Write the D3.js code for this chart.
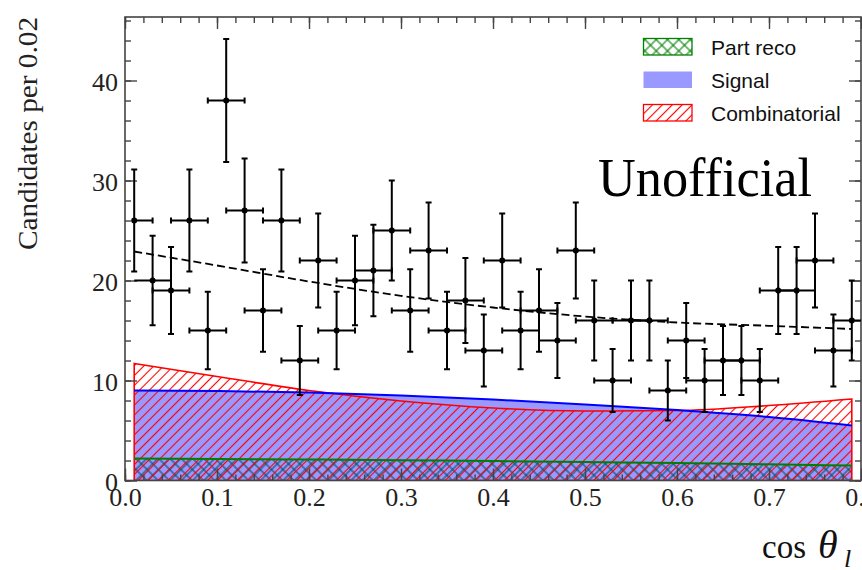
<!DOCTYPE html>
<html>
<head>
<meta charset="utf-8">
<script src="https://cdn.jsdelivr.net/npm/d3@7"></script>
<style>
  html, body { margin: 0; padding: 0; background: #fff; }
  svg { display: block; }
</style>
</head>
<body>
<svg id="chart" width="862" height="570"></svg>
<script>
// ---------------- data ----------------
const binCenters = [0.01, 0.03, 0.05, 0.07, 0.09, 0.11, 0.13, 0.15, 0.17, 0.19,
                    0.21, 0.23, 0.25, 0.27, 0.29, 0.31, 0.33, 0.35, 0.37, 0.39,
                    0.41, 0.43, 0.45, 0.47, 0.49, 0.51, 0.53, 0.55, 0.57, 0.59,
                    0.61, 0.63, 0.65, 0.67, 0.69, 0.71, 0.73, 0.75, 0.77, 0.79];
const counts = [26, 20, 19, 26, 15, 38, 27, 17, 26, 12,
                22, 15, 20, 21, 25, 17, 23, 15, 18, 13,
                22, 15, 17, 14, 23, 16, 10, 16, 16, 9,
                14, 10, 12, 12, 10, 19, 19, 22, 13, 16];
const countErrors = [5.10, 4.47, 4.36, 5.10, 3.87, 6.16, 5.20, 4.12, 5.10, 3.46,
                     4.69, 3.87, 4.47, 4.58, 5.00, 4.12, 4.80, 3.87, 4.24, 3.61,
                     4.69, 3.87, 4.12, 3.74, 4.80, 4.00, 3.16, 4.00, 4.00, 3.00,
                     3.74, 3.16, 3.46, 3.46, 3.16, 4.36, 4.36, 4.69, 3.61, 4.00];
const xErrorHalfWidth = 0.02;

const curveX        = [0.01, 0.10, 0.20, 0.30, 0.40, 0.50, 0.60, 0.70, 0.79];
const partReco      = [2.20, 2.15, 2.10, 2.02, 1.95, 1.85, 1.75, 1.62, 1.50];
const signal        = [9.00, 8.95, 8.80, 8.50, 8.10, 7.60, 7.05, 6.35, 5.50];
const combinatorial = [11.70, 10.40, 9.00, 7.95, 7.25, 6.95, 7.00, 7.50, 8.15];

const xTickValues = [0.0, 0.1, 0.2, 0.3, 0.4, 0.5, 0.6, 0.7, 0.8];
const xTickLabels = ["0.0", "0.1", "0.2", "0.3", "0.4", "0.5", "0.6", "0.7", "0.8"];
const yTickValues = [0, 10, 20, 30, 40];
const yTickLabels = ["0", "10", "20", "30", "40"];
const legendLabels = ["Part reco", "Signal", "Combinatorial"];

// ---------------- layout ----------------
const svg = d3.select("#chart");
const X0 = 125, X1 = 861, Y0 = 480.5, Y1 = 17;
const x = d3.scaleLinear().domain([0, 0.8]).range([X0, X1]);
const y = d3.scaleLinear().domain([0, 46.35]).range([Y0, Y1]);

const defs = svg.append("defs");
defs.append("clipPath").attr("id", "plotClip")
  .append("rect").attr("x", X0).attr("y", Y1).attr("width", X1 - X0).attr("height", Y0 - Y1);

// red single hatch "///"
const pr = defs.append("pattern").attr("id", "hatchRed")
  .attr("patternUnits", "userSpaceOnUse").attr("width", 7).attr("height", 7)
  .attr("patternTransform", "rotate(45)");
pr.append("line").attr("x1", 3.5).attr("y1", -1).attr("x2", 3.5).attr("y2", 8)
  .attr("stroke", "#ff0000").attr("stroke-width", 1.1);

// green cross hatch "xxx"
function crossPattern(id, color) {
  const p = defs.append("pattern").attr("id", id)
    .attr("patternUnits", "userSpaceOnUse").attr("width", 8).attr("height", 8)
    .attr("patternTransform", "rotate(45)");
  p.append("line").attr("x1", 4).attr("y1", -1).attr("x2", 4).attr("y2", 9)
    .attr("stroke", color).attr("stroke-width", 1.1);
  p.append("line").attr("x1", -1).attr("y1", 4).attr("x2", 9).attr("y2", 4)
    .attr("stroke", color).attr("stroke-width", 1.1);
}
crossPattern("crossGreen", "#008000");

// ---------------- components ----------------
const mk = arr => curveX.map((cx, i) => ({ x: cx, v: arr[i] }));
const prData = mk(partReco), sigData = mk(signal), combData = mk(combinatorial);
const totalData = curveX.map((cx, i) => ({ x: cx, v: partReco[i] + signal[i] + combinatorial[i] }));

const area = d3.area().x(d => x(d.x)).y0(y(0)).y1(d => y(d.v)).curve(d3.curveMonotoneX);
const line = d3.line().x(d => x(d.x)).y(d => y(d.v)).curve(d3.curveMonotoneX);

const plot = svg.append("g").attr("clip-path", "url(#plotClip)");

plot.append("path").attr("d", area(prData)).attr("fill", "url(#crossGreen)");
plot.append("path").attr("d", area(sigData)).attr("fill", "rgba(0,0,255,0.4)");
plot.append("path").attr("d", area(combData)).attr("fill", "url(#hatchRed)")
  .attr("stroke", "#ff0000").attr("stroke-width", 1.6);
plot.append("path").attr("d", line(sigData)).attr("fill", "none")
  .attr("stroke", "#0000ff").attr("stroke-width", 2);
plot.append("path").attr("d", line(prData)).attr("fill", "none")
  .attr("stroke", "#008000").attr("stroke-width", 2);
plot.append("path").attr("d", line(totalData)).attr("fill", "none")
  .attr("stroke", "#000").attr("stroke-width", 1.8).attr("stroke-dasharray", "8,4");

// ---------------- axes ----------------
const axisColor = "#444";
function styleAxis(g) {
  g.select(".domain").remove();
  g.selectAll(".tick line").attr("stroke", axisColor).attr("stroke-width", 1.4);
  g.selectAll(".tick text").attr("fill", "#222")
    .style("font-family", "'Liberation Serif', 'DejaVu Serif', serif").style("font-size", "26px");
}
const xMinor = d3.range(0, 0.8001, 0.02);
const yMinor = d3.range(0, 46.01, 2);

// minor ticks
svg.append("g").attr("transform", `translate(0,${Y0})`)
  .call(d3.axisBottom(x).tickValues(xMinor).tickSize(-6).tickFormat("")).call(styleAxis);
svg.append("g").attr("transform", `translate(0,${Y1})`)
  .call(d3.axisTop(x).tickValues(xMinor).tickSize(-6).tickFormat("")).call(styleAxis);
svg.append("g").attr("transform", `translate(${X0},0)`)
  .call(d3.axisLeft(y).tickValues(yMinor).tickSize(-6).tickFormat("")).call(styleAxis);
svg.append("g").attr("transform", `translate(${X1},0)`)
  .call(d3.axisRight(y).tickValues(yMinor).tickSize(-6).tickFormat("")).call(styleAxis);

// major ticks
svg.append("g").attr("transform", `translate(0,${Y0})`)
  .call(d3.axisBottom(x).tickValues(xTickValues).tickSize(-12).tickPadding(7)
    .tickFormat((d, i) => xTickLabels[i])).call(styleAxis);
svg.append("g").attr("transform", `translate(0,${Y1})`)
  .call(d3.axisTop(x).tickValues(xTickValues).tickSize(-12).tickFormat("")).call(styleAxis);
const yl = svg.append("g").attr("transform", `translate(${X0},0)`)
  .call(d3.axisLeft(y).tickValues(yTickValues).tickSize(-12).tickPadding(7)
    .tickFormat((d, i) => yTickLabels[i])).call(styleAxis);
yl.selectAll(".tick text").attr("dy", "0.4em");
svg.append("g").attr("transform", `translate(${X1},0)`)
  .call(d3.axisRight(y).tickValues(yTickValues).tickSize(-12).tickFormat("")).call(styleAxis);

// frame
svg.append("rect").attr("x", X0).attr("y", Y1).attr("width", X1 - X0).attr("height", Y0 - Y1)
  .attr("fill", "none").attr("stroke", axisColor).attr("stroke-width", 1.6);

// ---------------- data points ----------------
const pts = svg.append("g").attr("clip-path", "url(#plotClip)");
const capV = 3, capH = 3;
binCenters.forEach((cx, i) => {
  const cy = counts[i], e = countErrors[i];
  const g = pts.append("g").attr("stroke", "#000").attr("stroke-width", 2);
  g.append("line").attr("x1", x(cx)).attr("x2", x(cx)).attr("y1", y(cy - e)).attr("y2", y(cy + e));
  g.append("line").attr("x1", x(cx) - capV).attr("x2", x(cx) + capV).attr("y1", y(cy + e)).attr("y2", y(cy + e));
  g.append("line").attr("x1", x(cx) - capV).attr("x2", x(cx) + capV).attr("y1", y(cy - e)).attr("y2", y(cy - e));
  const lo = Math.max(cx - xErrorHalfWidth, binCenters[0]);
  const hi = Math.min(cx + xErrorHalfWidth, 0.8);
  g.append("line").attr("x1", x(lo)).attr("x2", x(hi)).attr("y1", y(cy)).attr("y2", y(cy));
  if (lo === cx - xErrorHalfWidth)
    g.append("line").attr("x1", x(lo)).attr("x2", x(lo)).attr("y1", y(cy) - capH).attr("y2", y(cy) + capH);
  if (hi === cx + xErrorHalfWidth)
    g.append("line").attr("x1", x(hi)).attr("x2", x(hi)).attr("y1", y(cy) - capH).attr("y2", y(cy) + capH);
  pts.append("circle").attr("cx", x(cx)).attr("cy", y(cy)).attr("r", 3).attr("fill", "#000");
});

// ---------------- labels ----------------
const serif = "'Liberation Serif', 'DejaVu Serif', serif";
svg.append("text")
  .attr("transform", `translate(37,${Y1}) rotate(-90)`)
  .attr("text-anchor", "end")
  .style("font-family", serif).style("font-size", "28px").attr("fill", "#222")
  .attr("textLength", 233).attr("lengthAdjust", "spacingAndGlyphs")
  .text("Candidates per 0.02");

const xt = svg.append("text").attr("x", 762).attr("y", 558)
  .style("font-family", serif).style("font-size", "33px").attr("fill", "#111");
xt.append("tspan").text("cos");
xt.append("tspan").attr("x", 818).style("font-style", "italic").style("font-size", "40px").text("θ");
xt.append("tspan").attr("x", 844).style("font-style", "italic").style("font-size", "26px").attr("dy", 9).text("l");

svg.append("text").attr("x", 598).attr("y", 196)
  .style("font-family", serif).style("font-size", "54px").attr("fill", "#000")
  .attr("textLength", 214).attr("lengthAdjust", "spacingAndGlyphs")
  .text("Unofficial");

// ---------------- legend ----------------
const legendFills = ["url(#crossGreen)", "rgba(0,0,255,0.4)", "url(#hatchRed)"];
const legendStrokes = ["#008000", "none", "#ff0000"];
const leg = svg.append("g");
legendLabels.forEach((lab, i) => {
  const top = 38.5 + i * 33;
  leg.append("rect").attr("x", 643.5).attr("y", top).attr("width", 48.5).attr("height", 16.5)
    .attr("fill", "#fff");
  leg.append("rect").attr("x", 643.5).attr("y", top).attr("width", 48.5).attr("height", 16.5)
    .attr("fill", legendFills[i]).attr("stroke", legendStrokes[i]).attr("stroke-width", 1.3);
  leg.append("text").attr("x", 711).attr("y", top + 16.3)
    .style("font-family", "'Liberation Sans', Arial, sans-serif").style("font-size", "21px")
    .attr("fill", "#111").text(lab);
});
</script>
</body>
</html>
